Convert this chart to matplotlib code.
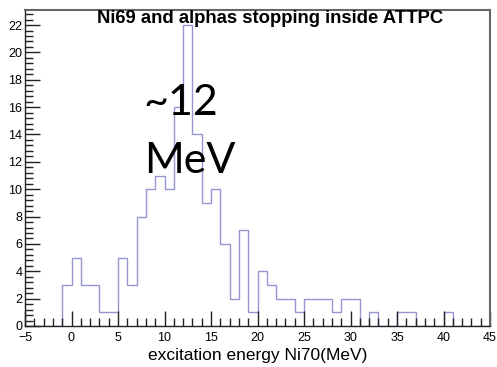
import numpy as np
import matplotlib
matplotlib.use("Agg")
import matplotlib.pyplot as plt
from matplotlib.ticker import MultipleLocator

# Histogram: 50 bins of 1 MeV from -5 to 45
bin_edges = list(range(-5, 46))
counts = [0, 0, 0, 0, 3, 5, 3, 3, 1, 1,
          5, 3, 8, 10, 11, 10, 16, 22, 14, 9,
          10, 6, 2, 7, 1, 4, 3, 2, 2, 1,
          2, 2, 2, 1, 2, 2, 0, 1, 0, 0,
          1, 1, 0, 0, 0, 1, 0, 0, 0, 0]

title = "Ni69 and alphas stopping inside ATTPC"
xlabel = "excitation energy Ni70(MeV)"
x_ticks = [-5, 0, 5, 10, 15, 20, 25, 30, 35, 40, 45]
y_ticks = list(range(0, 23, 2))

plt.rcParams['font.family'] = ['Liberation Sans', 'DejaVu Sans']

fig = plt.figure(figsize=(4.97, 3.67), dpi=100)
ax = fig.add_axes([25 / 497, 41 / 367, 465 / 497, 316 / 367])

ax.stairs(counts, bin_edges, color='#9696d2', linewidth=1.0, baseline=0)

ax.set_xlim(-5, 45)
ax.set_ylim(0, max(counts) * 1.05)

ax.set_xticks(x_ticks)
ax.set_yticks(y_ticks)
ax.xaxis.set_minor_locator(MultipleLocator(1))
ax.yaxis.set_minor_locator(MultipleLocator(0.4))
ax.tick_params(axis='both', which='major', direction='in', length=11,
               width=1.0, labelsize=9, color='#222222')
ax.tick_params(axis='both', which='minor', direction='in', length=6,
               width=1.0, color='#222222')
ax.tick_params(axis='x', pad=4)
ax.tick_params(axis='y', pad=2)
ax.tick_params(top=False, right=False, which='both')

for side in ['left', 'bottom']:
    ax.spines[side].set_color('#222222')
    ax.spines[side].set_linewidth(1.0)
for side in ['top', 'right']:
    ax.spines[side].set_color('#666666')
    ax.spines[side].set_linewidth(1.5)

ax.set_xlabel(xlabel, fontsize=12.5, labelpad=3)

fig.text(270 / 497, 1 - 18.5 / 367, title, ha='center', va='center',
         fontsize=13.3, fontweight='bold')

ann_font = ['Lato', 'DejaVu Sans']
fig.text(143 / 497, 1 - 115 / 367, "~12", ha='left', va='baseline',
         fontsize=31, family=ann_font)
fig.text(144 / 497, 1 - 173 / 367, "MeV", ha='left', va='baseline',
         fontsize=31, family=ann_font)

fig.savefig("out.png", dpi=100)
